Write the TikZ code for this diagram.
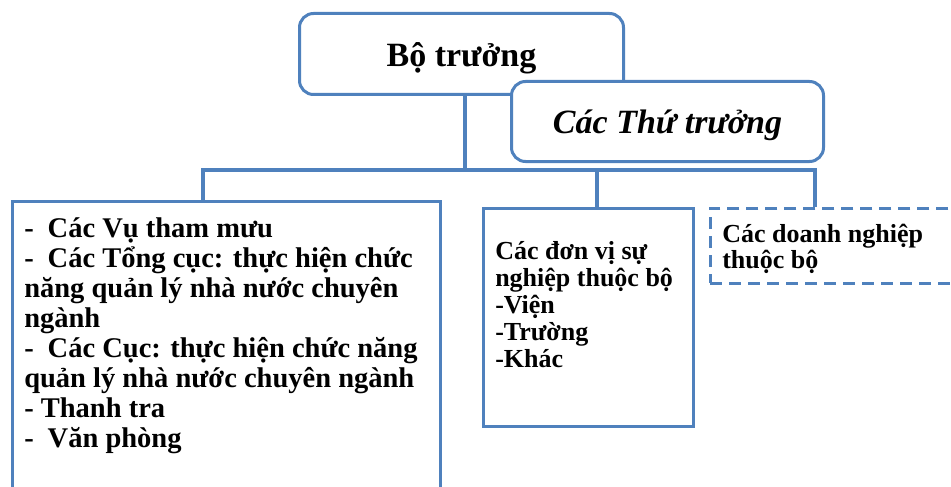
\documentclass[tikz,border=0pt]{standalone}
\usepackage{fontspec}
\setmainfont{Liberation Serif}
\usetikzlibrary{positioning}
\definecolor{orgblue}{RGB}{79,129,189}
\tikzset{
  box/.style={draw=orgblue, line width=2.5pt, fill=white, inner ysep=0pt, inner xsep=12pt, anchor=north west},
  roundbox/.style={draw=orgblue, line width=3pt, fill=white, rounded corners=14pt, inner sep=0pt, anchor=north west},
  dashbox/.style={box, dash pattern=on 12pt off 7pt},
  link/.style={draw=orgblue, line width=3.5pt},
}
\begin{document}
\begin{tikzpicture}[x=1pt,y=1pt]
  \clip (0,0) rectangle (951,-487);

  \coordinate (busL) at (203,-170);
  \coordinate (busT) at (465,-170);
  \coordinate (busM) at (597,-170);
  \coordinate (busR) at (815,-170);

  \node (BT) [roundbox, minimum width=324pt, minimum height=81pt] at (298,-12)
    {\raisebox{-4pt}[\height][\depth]{\fontsize{34}{36}\selectfont\bfseries Bộ trưởng}};
  \node (TT) [roundbox, minimum width=312pt, minimum height=80pt] at (510,-80)
    {\raisebox{-4pt}[\height][\depth]{\fontsize{34}{36}\selectfont\bfseries\itshape Các Thứ trưởng}};

  \node (VU) [box] at (11,-200)
    {\parbox[c][320pt][t]{404pt}{\fontsize{28.5}{30}\selectfont\bfseries
      \rule{0pt}{36pt}-\hspace{14pt}Các Vụ tham mưu\\
      -\hspace{14pt}Các Tổng cục: thực hiện chức\\
      năng quản lý nhà nước chuyên\\
      ngành\\
      -\hspace{14pt}Các Cục: thực hiện chức năng\\
      quản lý nhà nước chuyên ngành\\
      - Thanh tra\\
      -\hspace{14pt}Văn phòng}};
  \node (SN) [box, minimum width=210pt] at (482,-207)
    {\parbox[c][218pt][t]{186pt}{\fontsize{26}{27}\selectfont\bfseries
      \rule{0pt}{51pt}Các đơn vị sự\\
      nghiệp thuộc bộ\\
      -Viện\\
      -Trường\\
      -Khác}};
  \node (DN) [dashbox] at (709,-207)
    {\parbox[c][75pt][t]{257pt}{\fontsize{26}{26}\selectfont\bfseries
      \rule{0pt}{34pt}Các doanh nghiệp\\
      thuộc bộ}};

  % tree
  \draw[link] (BT.south -| busT) -- (busT);
  \draw[link] (busL |- VU.north) -- (busL) -- (busR) -- (busR |- DN.north);
  \draw[link] (busM) -- (busM |- SN.north);
\end{tikzpicture}
\end{document}
